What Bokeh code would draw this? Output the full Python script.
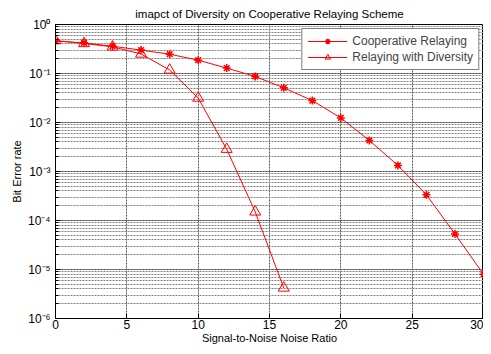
from bokeh.plotting import figure
from bokeh.models import (Legend, LegendItem, CustomJSTickFormatter,
                          FixedTicker, LogTicker, Range1d)
from bokeh.embed import file_html
from bokeh.resources import INLINE

# Data
snr_coop = [0, 2, 4, 6, 8, 10, 12, 14, 16, 18, 20, 22, 24, 26, 28, 30]
ber_coop = [0.46, 0.42, 0.36, 0.30, 0.248, 0.187, 0.129, 0.087, 0.051, 0.028,
            0.0124, 0.0043, 0.00133, 3.35e-4, 5.3e-5, 8e-6]
snr_div = [0, 2, 4, 6, 8, 10, 12, 14, 16]
ber_div = [0.47, 0.41, 0.35, 0.25, 0.118, 0.0316, 0.00285, 1.5e-4, 4.2e-6]
x_ticks = [0, 5, 10, 15, 20, 25, 30]

title_text = "imapct of Diversity on Cooperative Relaying Scheme"
xlabel = "Signal-to-Noise Noise Ratio"
ylabel = "Bit Error rate"
legend_labels = ["Cooperative Relaying", "Relaying with Diversity"]

FONT = "Liberation Sans"
RED = "#FF0000"

p = figure(width=483, height=346, y_axis_type="log",
           x_range=Range1d(0, 30), y_range=Range1d(1e-6, 1),
           output_backend="svg", toolbar_location=None,
           min_border_left=55, min_border_right=0, min_border_top=24, min_border_bottom=0)

p.title.text = title_text
p.title.text_font = FONT
p.title.text_font_size = "11.5px"
p.title.text_font_style = "normal"
p.title.text_color = "black"
p.title.align = "center"
p.title.standoff = 9
p.title.offset = 0

sup = CustomJSTickFormatter(code="""
const m = {'0':'\u2070','1':'\u00b9','2':'\u00b2','3':'\u00b3','4':'\u2074','5':'\u2075','6':'\u2076','7':'\u2077','8':'\u2078','9':'\u2079','-':'\u207b'};
const e = String(Math.round(Math.log10(tick)));
let s = '';
for (const c of e) { s += m[c]; }
return '10' + s;
""")

xa = p.xaxis[0]
xa.ticker = FixedTicker(ticks=x_ticks)
xa.axis_label = xlabel
ya = p.yaxis[0]
ya.ticker = LogTicker(num_minor_ticks=10)
ya.formatter = sup
ya.axis_label = ylabel

for ax in (xa, ya):
    ax.axis_label_text_font = FONT
    ax.axis_label_text_font_size = "11px"
    ax.axis_label_text_font_style = "normal"
    ax.axis_label_text_color = "black"
    ax.major_label_text_font = FONT
    ax.major_label_text_font_size = "12px"
    ax.major_label_text_color = "black"
    ax.major_tick_in = 5
    ax.major_tick_out = 0
    ax.minor_tick_in = 3
    ax.minor_tick_out = 0
    ax.axis_line_color = "black"
    ax.major_tick_line_color = "black"
    ax.minor_tick_line_color = "black"
    ax.major_label_standoff = 1
    ax.axis_label_standoff = 0
xa.minor_tick_line_color = None
ya.major_label_standoff = 5
ya.axis_label_standoff = 2

p.xgrid.grid_line_color = "#555555"
p.xgrid.grid_line_dash = "2 1"
p.ygrid.grid_line_color = "#555555"
p.ygrid.grid_line_dash = "2 1"
p.ygrid.minor_grid_line_color = "#808080"
p.ygrid.minor_grid_line_dash = "2 1"
p.outline_line_color = "black"

l1 = p.line(snr_coop, ber_coop, line_color=RED, line_width=1)
m1 = p.scatter(snr_coop, ber_coop, marker="asterisk", size=8, line_color=RED, line_width=1.5)
l2 = p.line(snr_div, ber_div, line_color=RED, line_width=1)
m2 = p.scatter(snr_div, ber_div, marker="triangle", size=11, line_color=RED,
               fill_color=None, line_width=1)

legend = Legend(items=[LegendItem(label=legend_labels[0], renderers=[l1, m1]),
                       LegendItem(label=legend_labels[1], renderers=[l2, m2])],
                location="top_right", margin=4, padding=5, spacing=2,
                label_text_font=FONT, label_text_font_size="12px",
                label_height=14, glyph_height=14, glyph_width=40,
                border_line_color="black", border_line_width=1,
                background_fill_alpha=1.0)
p.add_layout(legend, "center")

open("out.html", "w").write(file_html(p, INLINE))
